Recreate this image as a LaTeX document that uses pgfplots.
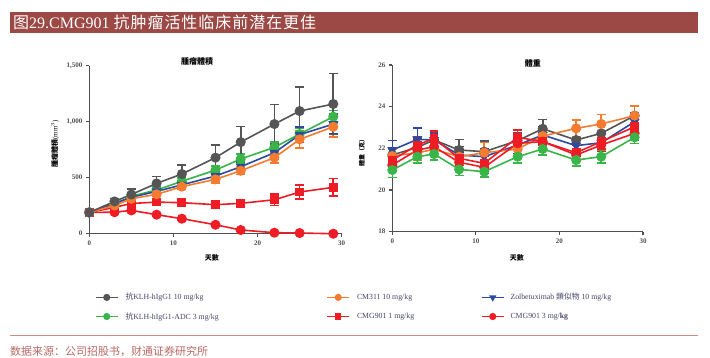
\documentclass[border=0pt]{standalone}
\usepackage{fontspec}
\usepackage{pgfplots}
\usepackage{pgfplotstable}
\pgfplotsset{compat=1.18}
\setmainfont{Liberation Serif}
\newfontfamily\cjk{Noto Sans CJK TC}
\newfontfamily\cjksc{Noto Sans CJK SC}
\newfontfamily\cjkwide[LetterSpace=6]{Noto Sans CJK SC}

\definecolor{banner}{HTML}{9C4945}
\definecolor{srcline}{HTML}{C98C88}
\definecolor{srctext}{HTML}{B86A66}
\definecolor{axgray}{HTML}{505050}
\definecolor{cgray}{HTML}{555555}
\definecolor{cgreen}{HTML}{3AB54A}
\definecolor{cblue}{HTML}{2B4BA0}
\definecolor{corange}{HTML}{F47B30}
\definecolor{cred}{HTML}{EE1C25}
\definecolor{legtext}{HTML}{45456A}

\pgfplotstableread{
d g eg gr egr b eb o eo ra era rb erb
0 190 10 190 10 190 10 190 10 190 10 190 10
3 288 25 262 15 270 15 252 15 235 15 192 10
5 350 50 335 20 325 20 312 15 270 20 208 15
8 449 60 390 25 378 20 352 20 282 20 170 10
11 533 83 468 30 436 25 420 20 277 20 134 10
15 679 113 568 35 515 30 485 30 259 25 80 10
18 818 140 667 45 598 40 562 35 271 30 33 8
22 979 176 771 50 723 55 679 50 303 51 9 5
25 1095 217 890 50 884 70 842 75 372 63 6 5
29 1158 271 1045 55 979 90 955 90 414 78 0 3
}\tumor

\pgfplotstableread{
d g eg gr egr b eb o eo ra era rb erb
0 21.68 0.30 20.96 0.35 21.92 0.45 21.63 0.35 21.44 0.30 21.20 0.30
3 22.05 0.40 21.60 0.30 22.43 0.55 21.79 0.35 22.16 0.40 21.92 0.35
5 22.40 0.40 21.73 0.30 22.40 0.35 21.95 0.35 22.48 0.35 22.08 0.30
8 21.92 0.50 20.99 0.30 21.68 0.40 21.60 0.40 21.52 0.35 21.33 0.30
11 21.84 0.50 20.88 0.25 21.60 0.40 21.79 0.50 21.28 0.35 21.09 0.30
15 22.37 0.40 21.60 0.30 22.16 0.40 21.97 0.40 22.53 0.35 22.24 0.35
18 22.94 0.45 21.97 0.30 22.64 0.40 22.59 0.40 22.32 0.35 22.32 0.30
22 22.40 0.50 21.44 0.30 22.13 0.40 22.96 0.40 21.79 0.35 21.68 0.30
25 22.72 0.40 21.60 0.30 22.27 0.40 23.17 0.45 22.32 0.35 22.16 0.30
29 23.57 0.45 22.53 0.30 23.28 0.45 23.57 0.45 23.04 0.40 22.72 0.35
}\weight

\pgfplotsset{
  base/.style={
    scale only axis, clip=false,
    axis x line*=bottom, axis y line*=left,
    axis line style={line width=1.5pt, color=axgray},
    tick style={line width=1.2pt, color=axgray},
    major tick length=3.5pt, tick align=outside,
    xtick pos=left, ytick pos=left,
    xmin=0, xmax=30, xtick={0,10,20,30},
    scaled ticks=false,
    ticklabel style={font=\fontsize{7}{8}\selectfont\bfseries, text=axgray},
    /pgf/number format/assume math mode=true,
    /pgf/number format/1000 sep={,},
    label style={font=\fontsize{7}{8}\selectfont, text=black},
    title style={font=\cjk\fontsize{8}{9}\selectfont\bfseries, yshift=-7.5pt},
    every axis plot/.append style={line width=1.6pt, mark size=4.2pt},
    error bars/y dir=both, error bars/y explicit,
    error bars/error bar style={line width=1.6pt},
    error bars/error mark options={rotate=90, mark size=4.4pt, line width=1.6pt},
  },
  sgray/.style={color=cgray, mark=*, mark options={fill=cgray, solid}},
  sgreen/.style={color=cgreen, mark=*, mark options={fill=cgreen, solid}},
  sblue/.style={color=cblue, mark=triangle*, mark options={fill=cblue, rotate=180, solid}},
  sorange/.style={color=corange, mark=*, mark options={fill=corange, solid}},
  sra/.style={color=cred, mark=square*, mark options={fill=cred, solid, scale=0.85}},
  srb/.style={color=cred, mark=*, mark options={fill=cred, solid}},
}

\begin{document}
\begin{tikzpicture}[x=1pt,y=1pt]
\useasboundingbox (0,0) rectangle (710,357);
\fill[white] (0,0) rectangle (710,357);
\clip (0,0) rectangle (710,357);
% banner
\fill[banner] (10,324) rectangle (698,345);
\node[anchor=base west, inner sep=0pt, text=white, font=\fontsize{16}{18}\selectfont] at (13,328.5)
  {{\cjkwide 图}29.CMG901 {\cjkwide 抗肿瘤活性临床前潜在更佳}};
% source
\draw[srcline, line width=1.2pt] (10,21.3) -- (698,21.3);
\node[anchor=base west, inner sep=0pt, text=srctext, font=\cjksc\fontsize{11}{12}\selectfont] at (10,1.8)
  {数据来源：公司招股书，财通证券研究所};

% left axis: tumour volume
\begin{axis}[base,
  at={(89.3pt,123.3pt)}, anchor=south west,
  width=252.4pt, height=168pt,
  ymin=0, ymax=1500, ytick={0,500,1000,1500},
  title={腫瘤體積},
  title style={at={(axis description cs:0.427,1.034)}, anchor=center},
  xlabel={\cjk\bfseries 天數},
  xlabel style={at={(axis description cs:0.486,-0.145)}, anchor=center},
  ylabel={{\cjk\bfseries 腫瘤體積}(mm$^{3}$)},
  ylabel style={at={(axis description cs:-0.136,0.534)}, anchor=center},
  legend columns=3,
  legend style={at={(axis description cs:0.0226,-0.355)}, anchor=north west,
    draw=none, fill=none, inner sep=0pt, outer sep=0pt,
    row sep=11pt, column sep=0pt,
    nodes={inner sep=0pt, outer sep=0pt, anchor=west},
    font=\fontsize{7.8}{8}\selectfont, text=legtext},
  legend image code/.code={%
    \draw[#1, mark repeat=2, mark phase=2, mark size=2.8pt]
      plot coordinates {(0pt,0pt)(11pt,0pt)(22pt,0pt)};},
]
\addlegendimage{sgray, line width=1.5pt}
\addlegendentry{\hspace{7pt}\makebox[201pt][l]{{\cjk 抗}KLH-hIgG1 10 mg/kg}}
\addlegendimage{sorange, line width=1.5pt}
\addlegendentry{\hspace{7pt}\makebox[124pt][l]{CM311 10 mg/kg}}
\addlegendimage{sblue, line width=1.5pt}
\addlegendentry{\hspace{6pt}Zolbetuximab {\cjk 類似物} 10 mg/kg}
\addlegendimage{sgreen, line width=1.5pt}
\addlegendentry{\hspace{7pt}\makebox[201pt][l]{{\cjk 抗}KLH-hIgG1-ADC 3 mg/kg}}
\addlegendimage{sra, line width=1.5pt}
\addlegendentry{\hspace{7pt}\makebox[124pt][l]{CMG901 1 mg/kg}}
\addlegendimage{srb, line width=1.5pt}
\addlegendentry{\hspace{6pt}CMG901 3 mg/\textbf{kg}}

\addplot[srb, forget plot] table[x=d, y=rb, y error=erb] {\tumor};
\addplot[sra, forget plot] table[x=d, y=ra, y error=era] {\tumor};
\addplot[sgreen, forget plot] table[x=d, y=gr, y error=egr] {\tumor};
\addplot[sblue, forget plot] table[x=d, y=b, y error=eb] {\tumor};
\addplot[sorange, forget plot] table[x=d, y=o, y error=eo] {\tumor};
\addplot[sgray, forget plot] table[x=d, y=g, y error=eg] {\tumor};
\end{axis}

% right axis: body weight
\begin{axis}[base,
  at={(392.3pt,125.3pt)}, anchor=south west,
  width=250.7pt, height=166.7pt,
  ymin=18, ymax=26, ytick={18,20,22,24,26},
  title={體重},
  title style={at={(axis description cs:0.561,1.018)}, anchor=center},
  xlabel={\cjk\bfseries 天數},
  xlabel style={at={(axis description cs:0.497,-0.158)}, anchor=center},
  ylabel={\cjk\fontsize{6}{7}\selectfont\bfseries 體重（克）},
  ylabel style={at={(axis description cs:-0.121,0.484)}, anchor=center},
]
\addplot[sgray] table[x=d, y=g, y error=eg] {\weight};
\addplot[sblue] table[x=d, y=b, y error=eb] {\weight};
\addplot[sorange] table[x=d, y=o, y error=eo] {\weight};
\addplot[sra] table[x=d, y=ra, y error=era] {\weight};
\addplot[srb] table[x=d, y=rb, y error=erb] {\weight};
\addplot[sgreen] table[x=d, y=gr, y error=egr] {\weight};
\end{axis}
\end{tikzpicture}
\end{document}
